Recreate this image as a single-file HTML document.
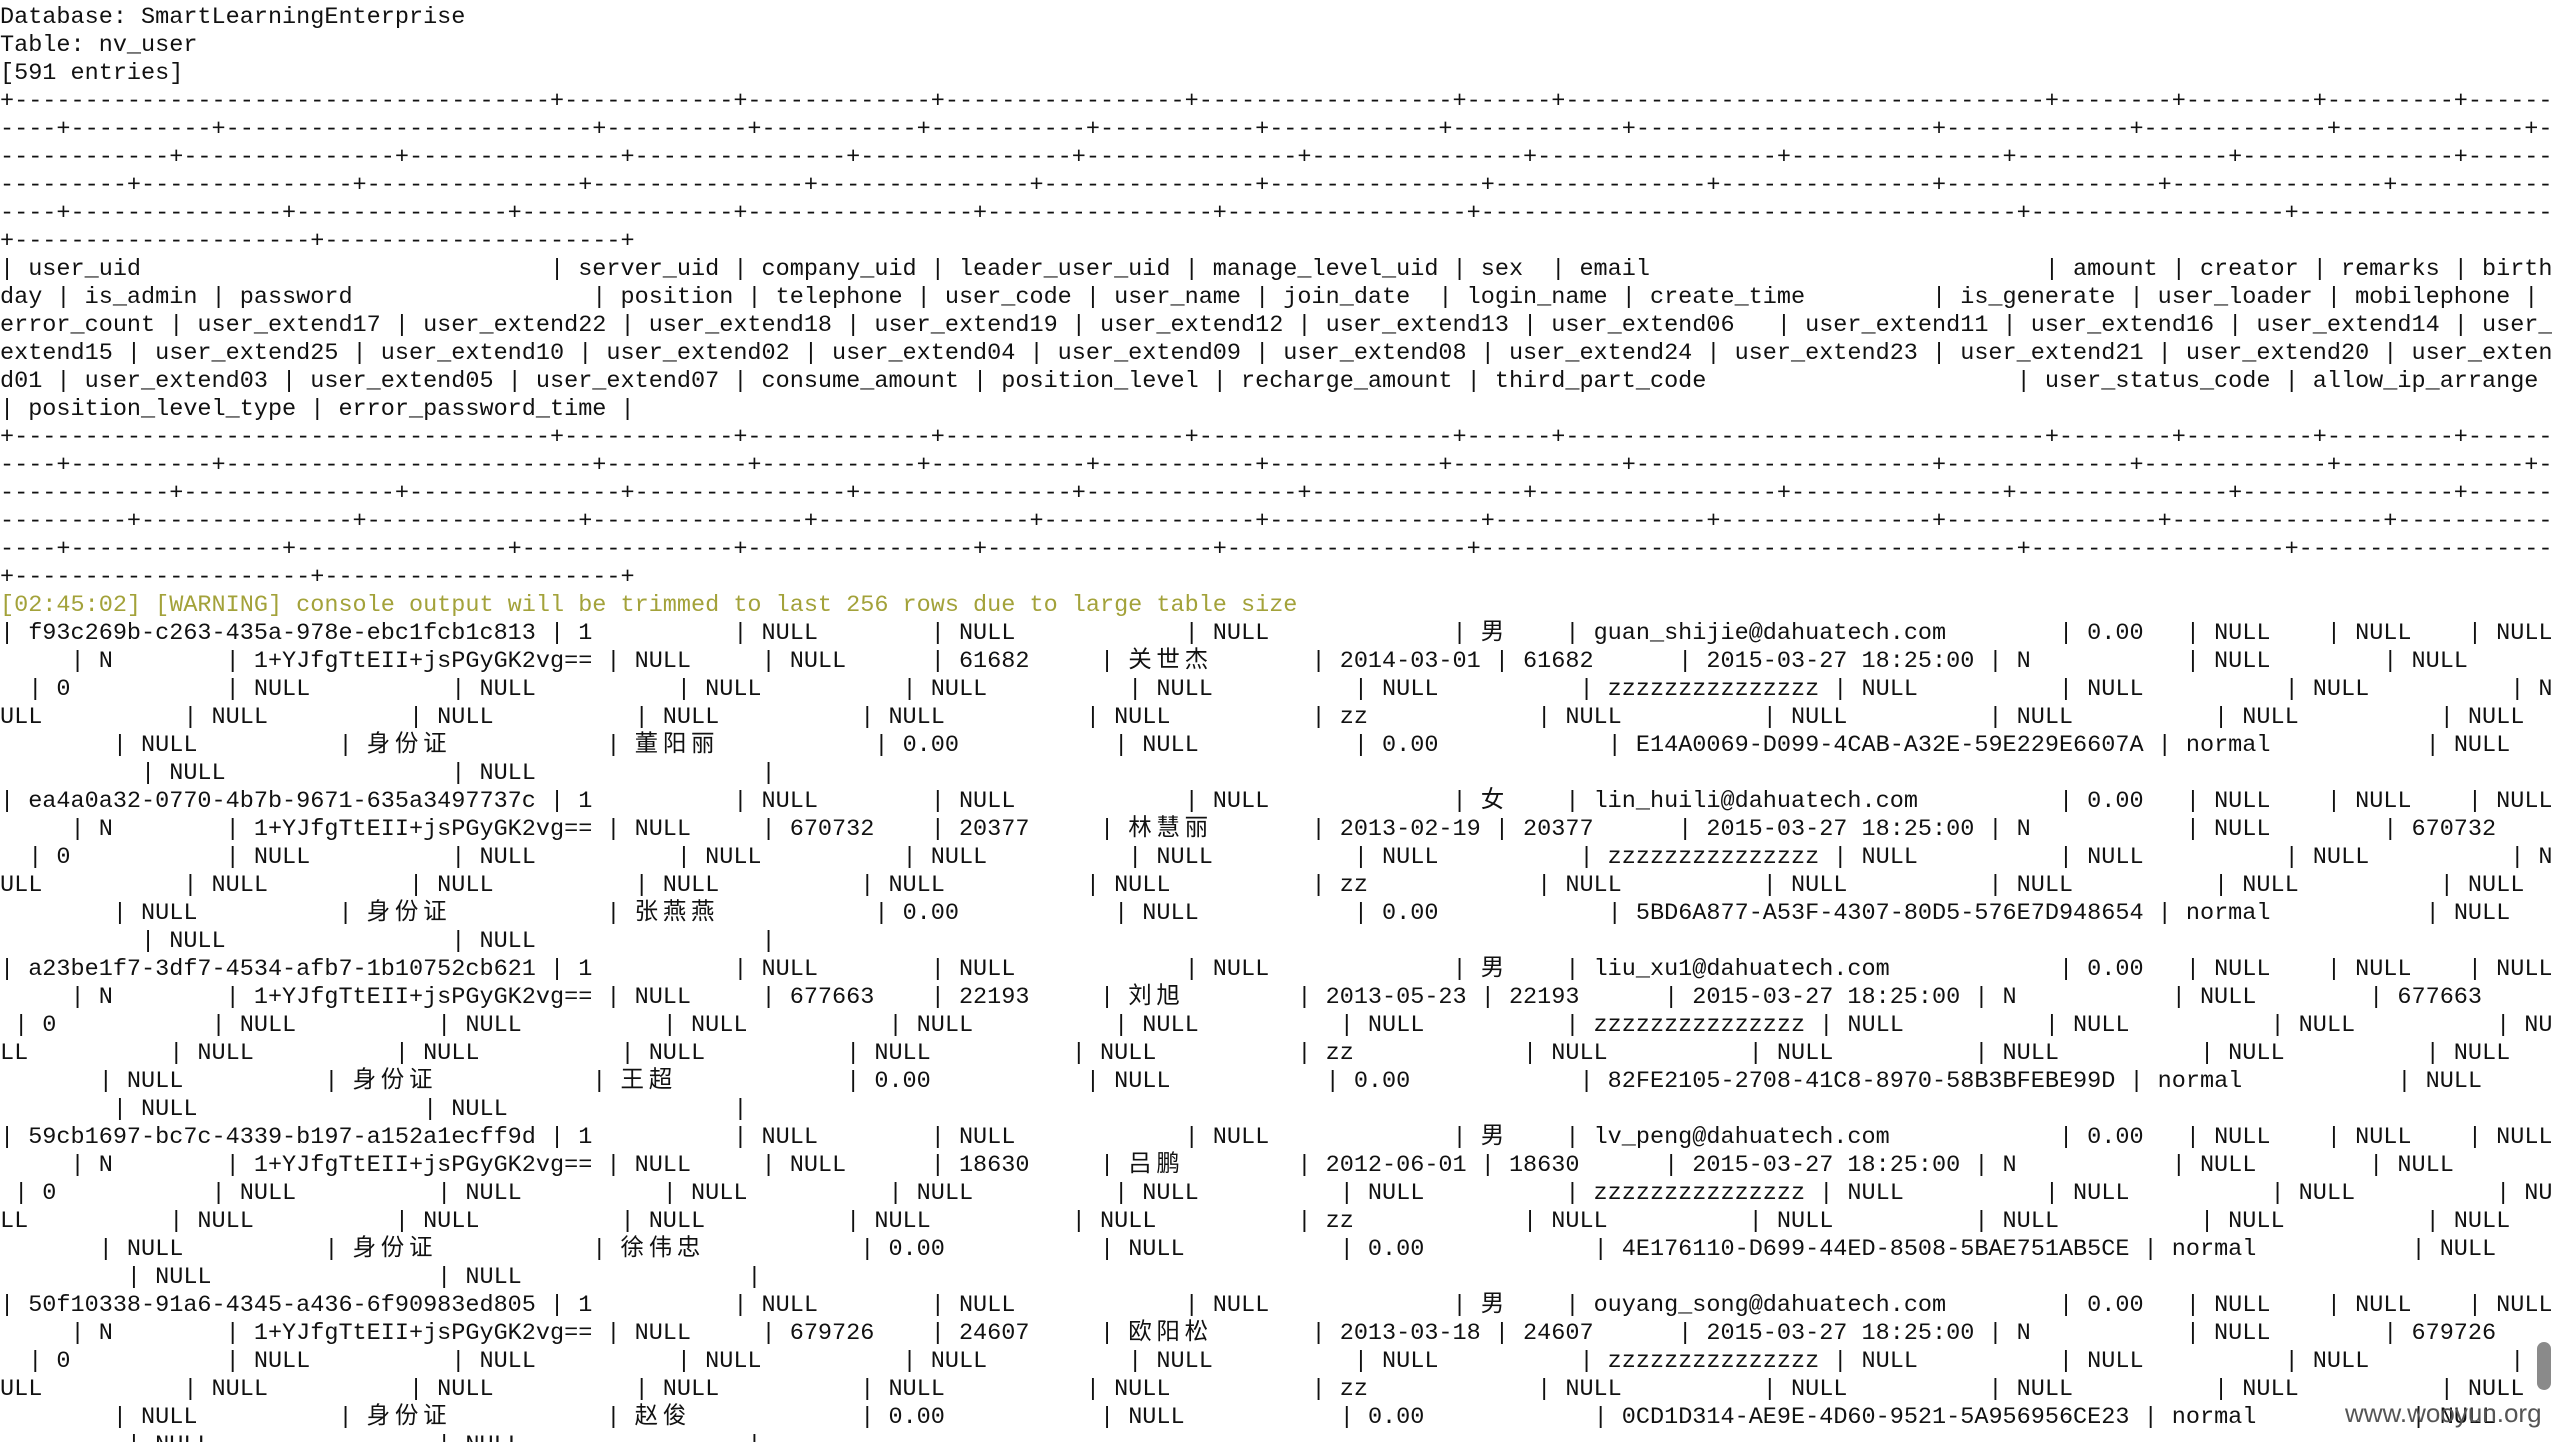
<!DOCTYPE html>
<html><head><meta charset="utf-8"><style>
html,body{margin:0;padding:0;background:#fff;width:2552px;height:1442px;overflow:hidden;position:relative}
#t{position:absolute;left:0;top:4px;width:calc(181ch + 0.5px);margin:0;font-family:"Liberation Mono","Noto Sans CJK SC",monospace;font-size:23.5px;line-height:28px;color:#111;white-space:break-spaces;word-break:break-all;line-break:anywhere;overflow-wrap:anywhere}
.c{letter-spacing:4.7px}
.w{color:#a3a23a}
#sb{position:absolute;left:2537px;top:1342px;width:14px;height:48px;border-radius:7px;background:#8a8a8a}
#wm{position:absolute;left:2345px;top:1398px;font-family:"Liberation Sans",sans-serif;font-size:26px;color:#555}
</style></head><body>
<pre id="t">Database: SmartLearningEnterprise
Table: nv_user
[591 entries]
+--------------------------------------+------------+-------------+-----------------+------------------+------+----------------------------------+--------+---------+---------+----------+----------+--------------------------+----------+-----------+-----------+-----------+------------+------------+---------------------+-------------+-------------+-------------+-------------+---------------+---------------+---------------+---------------+---------------+---------------+-----------------+---------------+---------------+---------------+---------------+---------------+---------------+---------------+---------------+---------------+---------------+---------------+---------------+---------------+---------------+---------------+---------------+---------------+---------------+----------------+----------------+-----------------+--------------------------------------+------------------+------------------+---------------------+---------------------+
| user_uid                             | server_uid | company_uid | leader_user_uid | manage_level_uid | sex  | email                            | amount | creator | remarks | birthday | is_admin | password                 | position | telephone | user_code | user_name | join_date  | login_name | create_time         | is_generate | user_loader | mobilephone | error_count | user_extend17 | user_extend22 | user_extend18 | user_extend19 | user_extend12 | user_extend13 | user_extend06   | user_extend11 | user_extend16 | user_extend14 | user_extend15 | user_extend25 | user_extend10 | user_extend02 | user_extend04 | user_extend09 | user_extend08 | user_extend24 | user_extend23 | user_extend21 | user_extend20 | user_extend01 | user_extend03 | user_extend05 | user_extend07 | consume_amount | position_level | recharge_amount | third_part_code                      | user_status_code | allow_ip_arrange | position_level_type | error_password_time |
+--------------------------------------+------------+-------------+-----------------+------------------+------+----------------------------------+--------+---------+---------+----------+----------+--------------------------+----------+-----------+-----------+-----------+------------+------------+---------------------+-------------+-------------+-------------+-------------+---------------+---------------+---------------+---------------+---------------+---------------+-----------------+---------------+---------------+---------------+---------------+---------------+---------------+---------------+---------------+---------------+---------------+---------------+---------------+---------------+---------------+---------------+---------------+---------------+---------------+----------------+----------------+-----------------+--------------------------------------+------------------+------------------+---------------------+---------------------+
<span class="w">[02:45:02] [WARNING] console output will be trimmed to last 256 rows due to large table size</span>
| f93c269b-c263-435a-978e-ebc1fcb1c813 | 1          | NULL        | NULL            | NULL             | <span class="c">男</span>    | guan_shijie@dahuatech.com        | 0.00   | NULL    | NULL    | NULL     | N        | 1+YJfgTtEII+jsPGyGK2vg== | NULL     | NULL      | 61682     | <span class="c">关世杰</span>       | 2014-03-01 | 61682      | 2015-03-27 18:25:00 | N           | NULL        | NULL        | 0           | NULL          | NULL          | NULL          | NULL          | NULL          | NULL          | zzzzzzzzzzzzzzz | NULL          | NULL          | NULL          | NULL          | NULL          | NULL          | NULL          | NULL          | NULL          | zz            | NULL          | NULL          | NULL          | NULL          | NULL          | NULL          | <span class="c">身份证</span>           | <span class="c">董阳丽</span>           | 0.00           | NULL           | 0.00            | E14A0069-D099-4CAB-A32E-59E229E6607A | normal           | NULL             | NULL                | NULL                |
| ea4a0a32-0770-4b7b-9671-635a3497737c | 1          | NULL        | NULL            | NULL             | <span class="c">女</span>    | lin_huili@dahuatech.com          | 0.00   | NULL    | NULL    | NULL     | N        | 1+YJfgTtEII+jsPGyGK2vg== | NULL     | 670732    | 20377     | <span class="c">林慧丽</span>       | 2013-02-19 | 20377      | 2015-03-27 18:25:00 | N           | NULL        | 670732      | 0           | NULL          | NULL          | NULL          | NULL          | NULL          | NULL          | zzzzzzzzzzzzzzz | NULL          | NULL          | NULL          | NULL          | NULL          | NULL          | NULL          | NULL          | NULL          | zz            | NULL          | NULL          | NULL          | NULL          | NULL          | NULL          | <span class="c">身份证</span>           | <span class="c">张燕燕</span>           | 0.00           | NULL           | 0.00            | 5BD6A877-A53F-4307-80D5-576E7D948654 | normal           | NULL             | NULL                | NULL                |
| a23be1f7-3df7-4534-afb7-1b10752cb621 | 1          | NULL        | NULL            | NULL             | <span class="c">男</span>    | liu_xu1@dahuatech.com            | 0.00   | NULL    | NULL    | NULL     | N        | 1+YJfgTtEII+jsPGyGK2vg== | NULL     | 677663    | 22193     | <span class="c">刘旭</span>        | 2013-05-23 | 22193      | 2015-03-27 18:25:00 | N           | NULL        | 677663      | 0           | NULL          | NULL          | NULL          | NULL          | NULL          | NULL          | zzzzzzzzzzzzzzz | NULL          | NULL          | NULL          | NULL          | NULL          | NULL          | NULL          | NULL          | NULL          | zz            | NULL          | NULL          | NULL          | NULL          | NULL          | NULL          | <span class="c">身份证</span>           | <span class="c">王超</span>            | 0.00           | NULL           | 0.00            | 82FE2105-2708-41C8-8970-58B3BFEBE99D | normal           | NULL             | NULL                | NULL                |
| 59cb1697-bc7c-4339-b197-a152a1ecff9d | 1          | NULL        | NULL            | NULL             | <span class="c">男</span>    | lv_peng@dahuatech.com            | 0.00   | NULL    | NULL    | NULL     | N        | 1+YJfgTtEII+jsPGyGK2vg== | NULL     | NULL      | 18630     | <span class="c">吕鹏</span>        | 2012-06-01 | 18630      | 2015-03-27 18:25:00 | N           | NULL        | NULL        | 0           | NULL          | NULL          | NULL          | NULL          | NULL          | NULL          | zzzzzzzzzzzzzzz | NULL          | NULL          | NULL          | NULL          | NULL          | NULL          | NULL          | NULL          | NULL          | zz            | NULL          | NULL          | NULL          | NULL          | NULL          | NULL          | <span class="c">身份证</span>           | <span class="c">徐伟忠</span>           | 0.00           | NULL           | 0.00            | 4E176110-D699-44ED-8508-5BAE751AB5CE | normal           | NULL             | NULL                | NULL                |
| 50f10338-91a6-4345-a436-6f90983ed805 | 1          | NULL        | NULL            | NULL             | <span class="c">男</span>    | ouyang_song@dahuatech.com        | 0.00   | NULL    | NULL    | NULL     | N        | 1+YJfgTtEII+jsPGyGK2vg== | NULL     | 679726    | 24607     | <span class="c">欧阳松</span>       | 2013-03-18 | 24607      | 2015-03-27 18:25:00 | N           | NULL        | 679726      | 0           | NULL          | NULL          | NULL          | NULL          | NULL          | NULL          | zzzzzzzzzzzzzzz | NULL          | NULL          | NULL          | NULL          | NULL          | NULL          | NULL          | NULL          | NULL          | zz            | NULL          | NULL          | NULL          | NULL          | NULL          | NULL          | <span class="c">身份证</span>           | <span class="c">赵俊</span>            | 0.00           | NULL           | 0.00            | 0CD1D314-AE9E-4D60-9521-5A956956CE23 | normal           | NULL             | NULL                | NULL                |
</pre>
<div id="sb"></div>
<div id="wm">www.wooyun.org</div>
</body></html>
